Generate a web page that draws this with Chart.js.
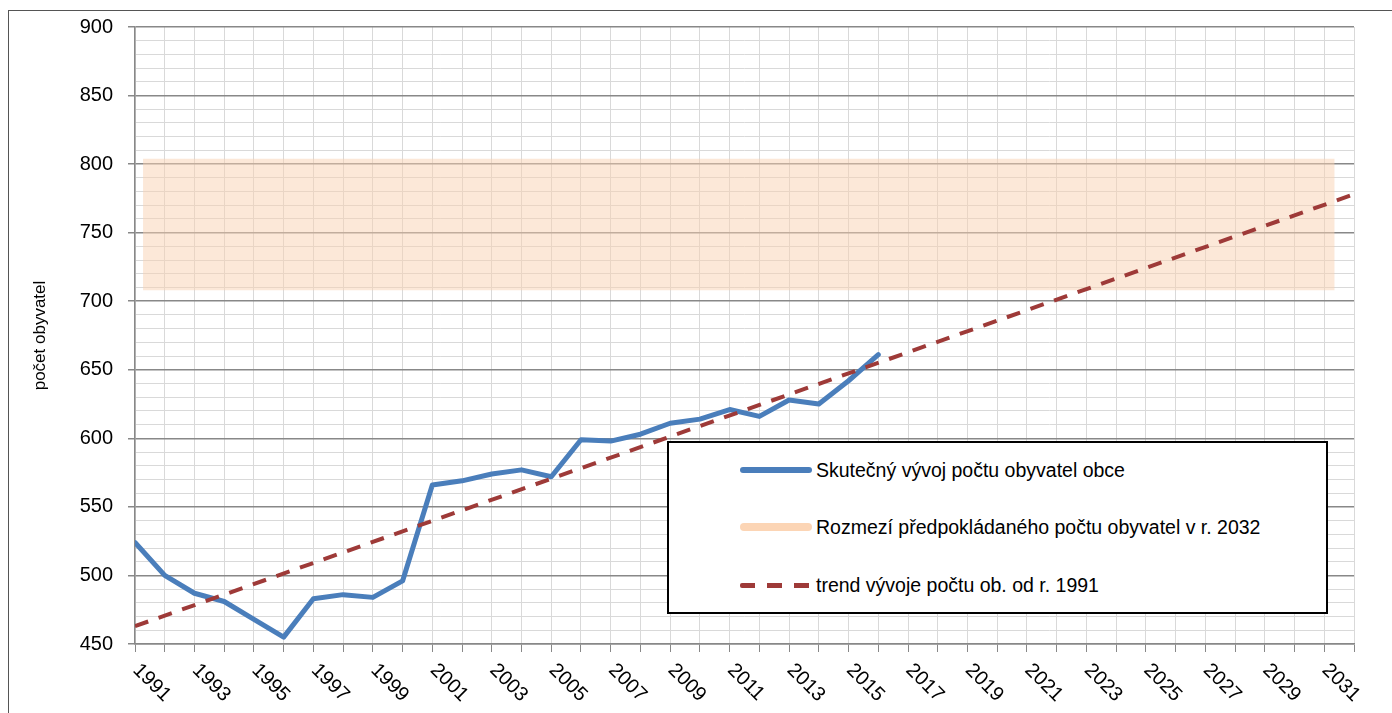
<!DOCTYPE html>
<html>
<head>
<meta charset="utf-8">
<script src="https://cdn.jsdelivr.net/npm/chart.js@4.4.1/dist/chart.umd.min.js"></script>
<style>
  html, body { margin: 0; padding: 0; background: #ffffff; overflow: hidden; }
  #wrap { position: relative; width: 1392px; height: 713px; }
  #frame { position: absolute; left: 8px; top: 10px; width: 1500px; height: 800px;
           border: 1.5px solid #555555; box-sizing: border-box; }
  #c { position: absolute; left: 0; top: 0; }
  #legend { position: absolute; left: 667px; top: 441px; width: 661px; height: 173px;
            border: 2.5px solid #000; background: #fff; box-sizing: border-box; }
  .item { position: absolute; left: 0; height: 30px; display: flex; align-items: center; }
  .sample { position: absolute; left: 71px; width: 72px; }
  .txt { position: absolute; left: 147px; white-space: nowrap; color: #000; }
</style>
</head>
<body>
<div id="wrap">
  <div id="frame"></div>
  <canvas id="c" width="1392" height="713"></canvas>
  <div id="legend"></div>
</div>
<script>
// ---- data ----
const years = [1991,1992,1993,1994,1995,1996,1997,1998,1999,2000,2001,2002,2003,2004,2005,2006,2007,2008,2009,2010,2011,2012,2013,2014,2015,2016];
const population = [524,500,487,481,468,455,483,486,484,496,566,569,574,577,572,599,598,603,611,614,621,616,628,625,642,661];
const trendYears = [1991, 2032];
const trendValues = [463, 778];
const bandYears = [1991.27, 2031.35];
const bandLow = [708, 708];
const bandHigh = [804, 804];
const xTickLabels = ['1991','1993','1995','1997','1999','2001','2003','2005','2007','2009','2011','2013','2015','2017','2019','2021','2023','2025','2027','2029','2031'];
const yTickLabels = ['450','500','550','600','650','700','750','800','850','900'];
const legendLabels = ['Skutečný vývoj počtu obyvatel obce','Rozmezí předpokládaného počtu obyvatel v r. 2032','trend vývoje počtu ob. od r. 1991'];

function hasFont(name) {
  const ctx = document.createElement('canvas').getContext('2d');
  ctx.font = '40px monospace';
  const w1 = ctx.measureText('abcdefghijklmnopqrstuvwxyz0123456789').width;
  ctx.font = '40px "' + name + '", monospace';
  const w2 = ctx.measureText('abcdefghijklmnopqrstuvwxyz0123456789').width;
  return Math.abs(w1 - w2) > 0.5;
}
const narrow = hasFont('Liberation Sans Narrow');
const mainFamily = narrow ? '"Liberation Sans Narrow", "Liberation Sans", Arial, sans-serif' : '"Liberation Sans", Arial, sans-serif';
const tickSize = narrow ? 23 : 20;
const legendSize = narrow ? 23.5 : 19.5;

const xy = (xs, ys) => xs.map((x, i) => ({x: x, y: ys[i]}));

const xLabelPlugin = {
  id: 'xLabels',
  afterDraw(chart) {
    const ctx = chart.ctx;
    const xs = chart.scales.x;
    ctx.save();
    ctx.fillStyle = '#000';
    ctx.font = tickSize + 'px ' + mainFamily;
    ctx.textAlign = 'left';
    ctx.textBaseline = 'middle';
    xTickLabels.forEach(l => {
      const px = xs.getPixelForValue(Number(l));
      ctx.save();
      ctx.translate(px + 1, 667);
      ctx.rotate(Math.PI / 4);
      ctx.fillText(l, 0, 0);
      ctx.restore();
    });
    ctx.restore();
  }
};

const chart = new Chart(document.getElementById('c'), {
  type: 'line',
  data: {
    datasets: [
      { label: legendLabels[1], data: xy(bandYears, bandHigh), borderWidth: 0, pointRadius: 0,
        backgroundColor: 'rgba(250, 210, 178, 0.5)', fill: '+1', order: 3 },
      { label: 'band-low', data: xy(bandYears, bandLow), borderWidth: 0, pointRadius: 0,
        backgroundColor: 'rgba(0,0,0,0)', fill: false, order: 3 },
      { label: legendLabels[0], data: xy(years, population), borderColor: '#4A7EBB', borderWidth: 5,
        pointRadius: 0, fill: false, tension: 0, borderJoinStyle: 'round', borderCapStyle: 'round', order: 2 },
      { label: legendLabels[2], data: xy(trendYears, trendValues), borderColor: '#9E3A38', borderWidth: 4,
        borderDash: [14, 11], pointRadius: 0, fill: false, order: 1 }
    ]
  },
  options: {
    responsive: false,
    animation: false,
    events: [],
    layout: { padding: { top: 26, right: 38, bottom: 0, left: 0 } },
    plugins: { legend: { display: false }, tooltip: { enabled: false } },
    scales: {
      x: {
        type: 'linear', min: 1991, max: 2032,
        ticks: { stepSize: 1, display: false },
        grid: { color: '#D9D9D9', lineWidth: 1, tickLength: 8, tickColor: '#888888', drawTicks: true },
        border: { color: '#888888', width: 1.5 },
        afterFit(s) { s.height = 69; }
      },
      y: {
        type: 'linear', min: 450, max: 900,
        ticks: {
          stepSize: 10, padding: 15, color: '#000', autoSkip: false,
          font: { family: mainFamily, size: tickSize },
          callback: (v) => (v % 50 === 0 ? yTickLabels[(v - 450) / 50] : '')
        },
        grid: {
          color: (c) => (c.tick && c.tick.value % 50 === 0 ? '#888888' : '#D9D9D9'),
          lineWidth: (c) => (c.tick && c.tick.value % 50 === 0 ? 1.5 : 1),
          tickColor: (c) => (c.tick && c.tick.value % 50 === 0 ? '#888888' : 'rgba(0,0,0,0)'),
          tickLength: 7
        },
        border: { color: '#888888', width: 1.5 },
        title: { display: true, text: 'počet obyvatel', color: '#000',
                 font: { family: '"Liberation Sans", Arial, sans-serif', size: 17 },
                 padding: { top: 30, bottom: 0 } },
        afterFit(s) { s.width = 135; }
      }
    }
  },
  plugins: [xLabelPlugin]
});

// HTML legend
const lg = document.getElementById('legend');
const rows = [
  { y: 27, sample: '<div style="height:6px;border-radius:3px;background:#4A7EBB"></div>' },
  { y: 84, sample: '<div style="height:8px;border-radius:4px;background:#FCD5B5"></div>' },
  { y: 142, sample: '<div style="height:5px;background:repeating-linear-gradient(90deg,#9E3A38 0 15px,transparent 15px 27px);border-radius:2px"></div>' }
];
rows.forEach((r, i) => {
  const d = document.createElement('div');
  d.className = 'item';
  d.style.top = (r.y - 15) + 'px';
  d.style.width = '100%';
  d.innerHTML = '<div class="sample">' + r.sample + '</div><span class="txt" style="font-family:' +
    mainFamily.replace(/"/g, "'") + ';font-size:' + legendSize + 'px">' + legendLabels[i] + '</span>';
  lg.appendChild(d);
});
</script>
</body>
</html>
